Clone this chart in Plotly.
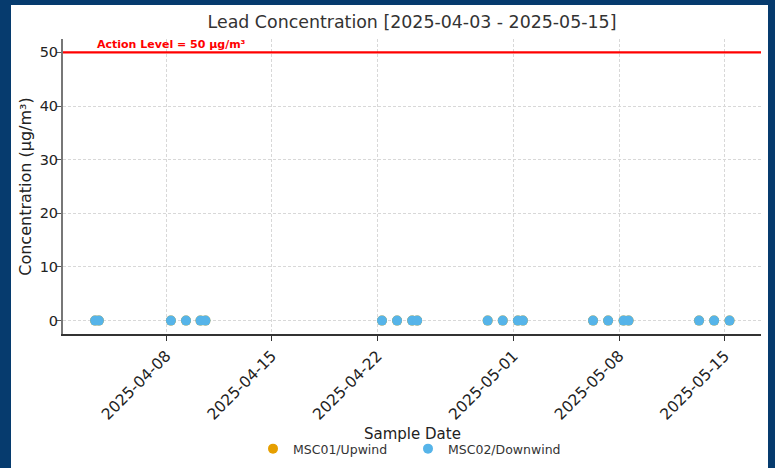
import plotly.graph_objects as go

# ---- data ----
sample_dates = [
    "2025-04-03 07:00", "2025-04-03 13:00", "2025-04-08 07:30", "2025-04-09 07:30",
    "2025-04-10 06:30", "2025-04-10 14:30", "2025-04-22 07:00", "2025-04-23 07:00",
    "2025-04-24 07:00", "2025-04-24 15:00", "2025-04-29 07:00", "2025-04-30 07:00",
    "2025-05-01 07:00", "2025-05-01 15:00", "2025-05-06 06:30", "2025-05-07 06:30",
    "2025-05-08 07:00", "2025-05-08 15:00", "2025-05-13 07:00", "2025-05-14 07:00",
    "2025-05-15 07:30",
]
upwind_values = [0] * len(sample_dates)
downwind_values = [0, 0, 0, 0, 0, 0, 0, 0, 0, 0, 0, 0, 0, 0, 0, 0, 0, 0, 0, 0, 0]
action_level = 50
tick_dates = ["2025-04-08", "2025-04-15", "2025-04-22", "2025-05-01", "2025-05-08", "2025-05-15"]
y_ticks = [0, 10, 20, 30, 40, 50]
title_text = "Lead Concentration [2025-04-03 - 2025-05-15]"

# ---- layout geometry (pixels) ----
W, H = 775, 468
L, R, T, B = 63, 761, 39, 334
pw, ph = R - L, B - T

def px_x(x):
    return (x - L) / pw

def px_y(y):
    return (B - y) / ph

FONT = "DejaVu Sans"
fig = go.Figure()

fig.add_trace(go.Scatter(
    x=sample_dates, y=upwind_values, mode="markers", name="MSC01/Upwind",
    marker=dict(color="#E69F00", size=10),
))
fig.add_trace(go.Scatter(
    x=sample_dates, y=downwind_values, mode="markers", name="MSC02/Downwind",
    marker=dict(color="#56B4E9", size=10),
))

# white card on dark-blue paper
fig.add_shape(type="rect", xref="paper", yref="paper",
              x0=px_x(11), x1=px_x(768), y0=px_y(475), y1=px_y(5),
              fillcolor="white", line=dict(width=0), layer="below")

# action level line
fig.add_shape(type="line", xref="paper", yref="y", x0=0, x1=1,
              y0=action_level, y1=action_level,
              line=dict(color="#FF0000", width=2.2))
fig.add_annotation(x=sample_dates[0], y=action_level, xref="x", yref="y",
                   text="<b>Action Level = %d μg/m³</b>" % action_level,
                   showarrow=False, xanchor="left", yanchor="bottom", yshift=-1,
                   font=dict(family=FONT, size=11, color="#FF0000"))

# x axis label
fig.add_annotation(x=0.5, y=px_y(434), xref="paper", yref="paper",
                   text="Sample Date", showarrow=False, xanchor="center", yanchor="middle",
                   font=dict(family=FONT, size=15, color="#222"))

fig.update_layout(
    width=W, height=H,
    margin=dict(l=L, r=W - R, t=T, b=H - B, autoexpand=False),
    paper_bgcolor="#063B6E",
    plot_bgcolor="white",
    font=dict(family=FONT, size=14, color="#222"),
    title=dict(text=title_text, x=px_x(412), xanchor="center", y=1 - 22 / H, yanchor="middle",
               xref="paper",
               font=dict(family=FONT, size=17.4, color="#333")),
    showlegend=True,
    legend=dict(orientation="h", x=px_x(408), xanchor="center", y=px_y(449), yanchor="middle",
                font=dict(family=FONT, size=12.5, color="#333"), bgcolor="rgba(0,0,0,0)",
                itemwidth=30, entrywidth=110),
)

fig.update_xaxes(
    type="date",
    range=["2025-04-01 04:00", "2025-05-17 09:30"],
    tickvals=tick_dates, ticktext=tick_dates,
    tickangle=-45, automargin=False,
    showgrid=True, gridcolor="#d8d8d8", griddash="3px,2px", gridwidth=1,
    showline=True, linecolor="#333", linewidth=1.5,
    ticks="outside", ticklen=5, tickcolor="#333",
    tickfont=dict(family=FONT, size=15.5, color="#222"),
    zeroline=False,
)
fig.update_yaxes(
    range=[-2.5, 52.5],
    tickvals=y_ticks, automargin=False,
    showgrid=True, gridcolor="#d8d8d8", griddash="3px,2px", gridwidth=1,
    showline=True, linecolor="#777", linewidth=2,
    ticks="outside", ticklen=5, tickcolor="#555",
    tickfont=dict(family=FONT, size=14.5, color="#222"),
    ticklabelstandoff=-5,
    zeroline=False,
    title=dict(text="Concentration (μg/m³)", standoff=4,
               font=dict(family=FONT, size=16, color="#222")),
)

fig.write_html("out.html", config={"displayModeBar": False},
               post_script="document.body.style.margin='0';document.body.style.overflow='hidden';")
